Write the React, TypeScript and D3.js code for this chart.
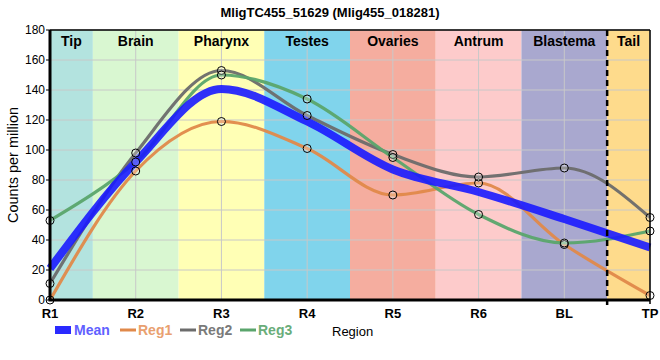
import * as d3 from 'd3';

const categories = ['R1', 'R2', 'R3', 'R4', 'R5', 'R6', 'BL', 'TP'];
const regions = ['Tip', 'Brain', 'Pharynx', 'Testes', 'Ovaries', 'Antrum', 'Blastema', 'Tail'];
const regionColors = ['#b3e3df', '#d9f7d1', '#ffffb5', '#80d4ec', '#f5ad9f', '#fdcbcb', '#a9a8cf', '#fedb8c'];

const reg1 = [0, 86, 119, 101, 70, 78, 37, 3];
const reg2 = [11, 98, 153, 123, 97, 82, 88, 55];
const reg3 = [53, 92, 150, 134, 95, 57, 38, 46];
const mean = [21, 92, 140.7, 119, 87, 72, 54, 35];

const yTicks = [0, 20, 40, 60, 80, 100, 120, 140, 160, 180];

const series = [
  { name: 'Reg1', values: reg1, color: '#e0894a', text: '#e9a070' },
  { name: 'Reg2', values: reg2, color: '#6c6c6c', text: '#7a7a7a' },
  { name: 'Reg3', values: reg3, color: '#5aa56c', text: '#6aad7a' },
];

export default function App() {
  const margin = { top: 30, right: 10, bottom: 60, left: 50 };
  const W = 660;
  const H = 360;
  const x = d3.scalePoint<string>().domain(categories).range([margin.left, W - margin.right]);
  const y = d3.scaleLinear().domain([0, 180]).range([H - margin.bottom, margin.top]);
  const x0 = margin.left;
  const x1 = W - margin.right;
  const y0 = H - margin.bottom;
  const y1 = margin.top;
  const step = x.step();

  // smooth line through the points
  const line = d3
    .line<number>()
    .x((_, i) => x(categories[i]) as number)
    .y(d => y(d))
    .curve(d3.curveMonotoneX);

  const font = 'Liberation Sans, Arial, sans-serif';
  const bands = regions.map((r, i) => {
    const c = x(categories[i]) as number;
    const a = Math.max(x0, c - step / 2);
    const b = Math.min(x1, c + step / 2);
    return { name: r, a, b, color: regionColors[i] };
  });
  const dashX = (x(categories[6]) as number) + step / 2;

  return (
    <svg width={W} height={H} style={{ position: 'absolute', left: 0, top: 0 }} fontFamily={font}>
      <rect width={W} height={H} fill="#fff" />
      <text x={W / 2} y={17} textAnchor="middle" fontWeight="bold" fontSize={13}>
        MligTC455_51629 (Mlig455_018281)
      </text>
      {bands.map(b => (
        <rect key={b.name} x={b.a} y={y1} width={b.b - b.a} height={y0 - y1} fill={b.color} />
      ))}
      {yTicks.map(t => (
        <line key={t} x1={x0} x2={x1} y1={y(t)} y2={y(t)} stroke="#c8c8c8" strokeWidth={1} />
      ))}
      {categories.map(c => (
        <line key={c} x1={x(c)} x2={x(c)} y1={y1} y2={y0} stroke="#c8c8c8" strokeWidth={1} />
      ))}
      {bands.map(b => (
        <text key={b.name} x={(b.a + b.b) / 2} y={y1 + 16} textAnchor="middle" fontWeight="bold" fontSize={14}>
          {b.name}
        </text>
      ))}
      {series.map(s => (
        <path key={s.name} d={line(s.values) || ''} fill="none" stroke={s.color} strokeWidth={3.2} strokeOpacity={0.95} />
      ))}
      <path d={line(mean) || ''} fill="none" stroke="#1a1aff" strokeWidth={8} strokeOpacity={0.9} />
      {series.map(s =>
        s.values.map((v, i) => (
          <circle key={s.name + i} cx={x(categories[i])} cy={y(v)} r={4} fill="rgba(255,255,255,0.25)" stroke="#000" strokeWidth={1} />
        ))
      )}
      <line x1={dashX} x2={dashX} y1={y1} y2={y0 + 5} stroke="#000" strokeWidth={2.5} strokeDasharray="6,4" />
      <line x1={x1} x2={x1} y1={y1} y2={y0 + 4} stroke="#000" strokeWidth={1.5} />
      <line x1={x0} x2={x1} y1={y1} y2={y1} stroke="#000" strokeWidth={1.5} />
      <line x1={x0} x2={x0} y1={y1} y2={y0} stroke="#000" strokeWidth={3} />
      <line x1={x0 - 1.5} x2={x1} y1={y0} y2={y0} stroke="#000" strokeWidth={3} />
      {yTicks.map(t => (
        <g key={t}>
          <line x1={x0 - 4} x2={x0} y1={y(t)} y2={y(t)} stroke="#000" strokeWidth={1} />
          <text x={x0 - 5} y={y(t) + 4} textAnchor="end" fontSize={12}>
            {t}
          </text>
        </g>
      ))}
      {categories.map(c => (
        <text key={c} x={x(c)} y={y0 + 18} textAnchor="middle" fontSize={13} fontWeight="bold">
          {c}
        </text>
      ))}
      <text transform={`translate(18,${(y0 + y1) / 2}) rotate(-90)`} textAnchor="middle" fontSize={14.5}>
        Counts per million
      </text>
      <text x={332} y={336} fontSize={13}>
        Region
      </text>
      <rect x={55} y={326} width={16} height={8} fill="#2a2aff" />
      <text x={74} y={335} fontSize={14} fontWeight="bold" fill="#6060ff">
        Mean
      </text>
      {series.map((s, i) => {
        const lx = 120 + i * 60;
        return (
          <g key={s.name}>
            <line x1={lx} x2={lx + 16} y1={330} y2={330} stroke={s.color} strokeWidth={3} />
            <text x={lx + 18} y={335} fontSize={14} fontWeight="bold" fill={s.text}>
              {s.name}
            </text>
          </g>
        );
      })}
    </svg>
  );
}
